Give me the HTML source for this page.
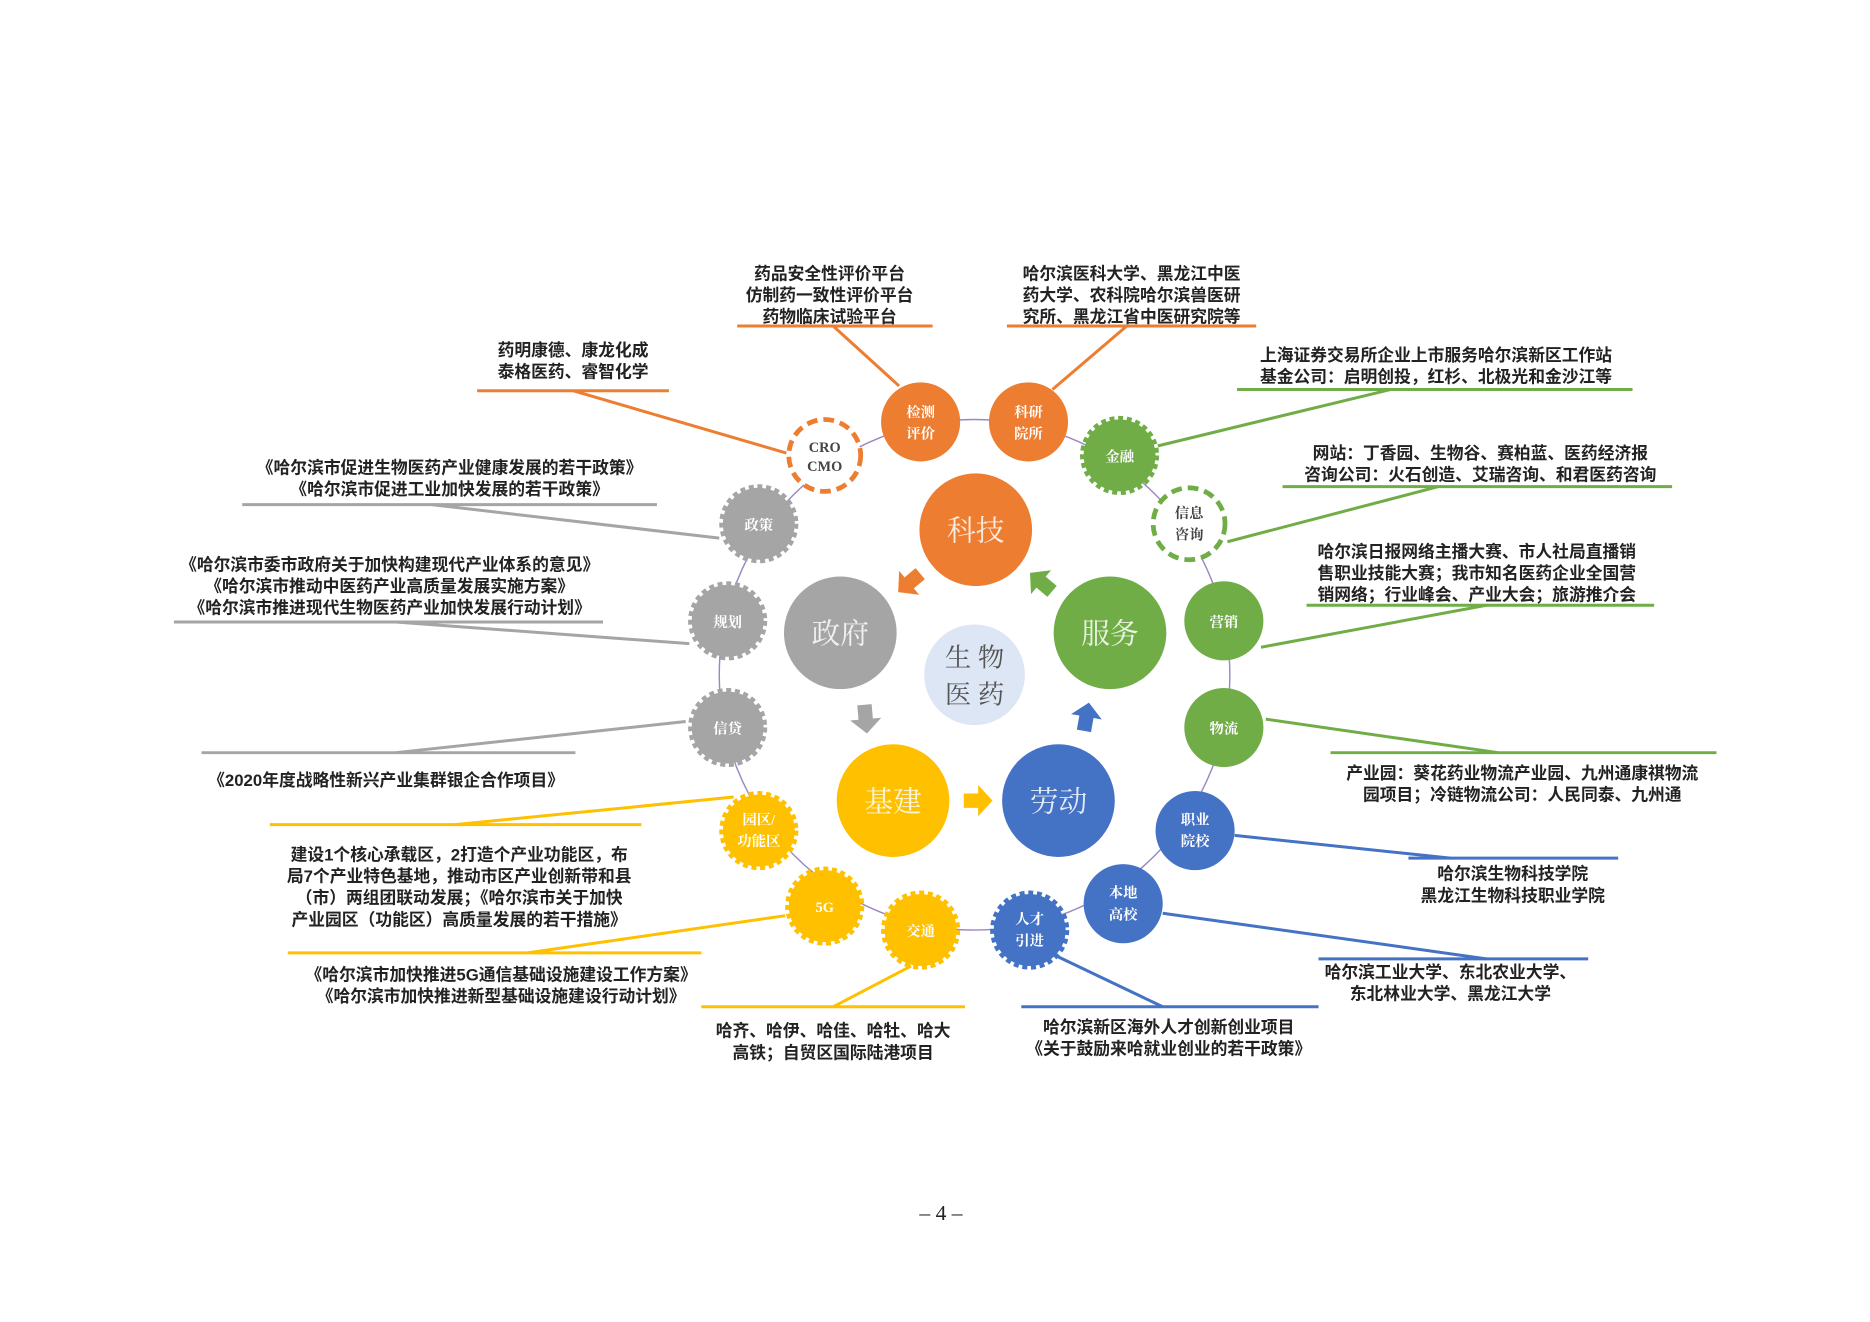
<!DOCTYPE html>
<html><head><meta charset="utf-8"><style>
html,body{margin:0;padding:0;background:#fff;}
svg{display:block;}
.t{font-family:"Liberation Sans","Noto Sans CJK SC",sans-serif;font-weight:bold;font-size:14px;fill:#222;text-anchor:middle;}
.n{font-family:"Liberation Serif","Noto Serif CJK SC",serif;font-weight:bold;font-size:12px;text-anchor:middle;}
.big{font-family:"Liberation Serif","Noto Serif CJK SC",serif;font-size:24px;fill:#fff;text-anchor:middle;opacity:.85}
</style></head><body>
<svg width="1870" height="1322" viewBox="0 0 1560 1103" xmlns="http://www.w3.org/2000/svg">
<rect width="1560" height="1103" fill="#fff"/>
<!-- ring -->
<circle cx="813" cy="563" r="213" fill="none" stroke="#9b87c4" stroke-width="1.2"/>
<!-- callout lines -->
<g stroke-width="2.5" fill="none">
<g stroke="#ed7d31">
<line x1="615" y1="272" x2="778" y2="272"/><line x1="695" y1="272" x2="750" y2="322"/>
<line x1="398" y1="326" x2="558" y2="326"/><line x1="478" y1="326" x2="656" y2="378"/>
<line x1="840" y1="272" x2="1048" y2="272"/><line x1="940" y1="272" x2="878" y2="325"/>
</g>
<g stroke="#70ad47">
<line x1="1032" y1="325" x2="1362" y2="325"/><line x1="1160" y1="325" x2="966" y2="372"/>
<line x1="1070" y1="406" x2="1395" y2="406"/><line x1="1200" y1="406" x2="1024" y2="452"/>
<line x1="1090" y1="505" x2="1380" y2="505"/><line x1="1240" y1="505" x2="1052" y2="540"/>
<line x1="1110" y1="628" x2="1432" y2="628"/><line x1="1056" y1="600" x2="1250" y2="628"/>
</g>
<g stroke="#4472c4">
<line x1="1175" y1="716" x2="1350" y2="716"/><line x1="1030" y1="697" x2="1210" y2="716"/>
<line x1="1100" y1="800" x2="1325" y2="800"/><line x1="970" y1="762" x2="1240" y2="800"/>
<line x1="852" y1="840" x2="1100" y2="840"/><line x1="880" y1="797" x2="970" y2="840"/>
</g>
<g stroke="#ffc000">
<line x1="585" y1="840" x2="805" y2="840"/><line x1="760" y1="806" x2="695" y2="840"/>
<line x1="240" y1="795" x2="585" y2="795"/><line x1="655" y1="764" x2="440" y2="795"/>
<line x1="225" y1="688" x2="535" y2="688"/><line x1="612" y1="665" x2="380" y2="688"/>
</g>
<g stroke="#a5a5a5">
<line x1="168" y1="628" x2="480" y2="628"/><line x1="572" y1="602" x2="330" y2="628"/>
<line x1="145" y1="519" x2="503" y2="519"/><line x1="330" y1="519" x2="575" y2="537"/>
<line x1="202" y1="421" x2="548" y2="421"/><line x1="360" y1="421" x2="600" y2="449"/>
</g>
</g>
<!-- outer nodes -->
<g>
<circle cx="688" cy="380" r="30" fill="#fff" stroke="#ed7d31" stroke-width="4" stroke-dasharray="9 5"/>
<text class="n" x="688" y="377" fill="#444">CRO</text><text class="n" x="688" y="393" fill="#444">CMO</text>
<circle cx="768" cy="352" r="33" fill="#ed7d31"/><text class="n" fill="#fff" x="768" y="348">检测</text><text class="n" fill="#fff" x="768" y="366">评价</text>
<circle cx="858" cy="352" r="33" fill="#ed7d31"/><text class="n" fill="#fff" x="858" y="348">科研</text><text class="n" fill="#fff" x="858" y="366">院所</text>
<circle cx="934" cy="380" r="30" fill="#70ad47" stroke="#70ad47" stroke-width="6" stroke-dasharray="4 3"/><text class="n" fill="#fff" x="934" y="385">金融</text>
<circle cx="992" cy="437" r="30" fill="#fff" stroke="#70ad47" stroke-width="4" stroke-dasharray="9 5"/><text class="n" fill="#444" x="992" y="432">信息</text><text class="n" fill="#444" x="992" y="450">咨询</text>
<circle cx="1021" cy="518" r="33" fill="#70ad47"/><text class="n" fill="#fff" x="1021" y="523">营销</text>
<circle cx="1021" cy="607" r="33" fill="#70ad47"/><text class="n" fill="#fff" x="1021" y="612">物流</text>
<circle cx="997" cy="693" r="33" fill="#4472c4"/><text class="n" fill="#fff" x="997" y="688">职业</text><text class="n" fill="#fff" x="997" y="706">院校</text>
<circle cx="937" cy="754" r="33" fill="#4472c4"/><text class="n" fill="#fff" x="937" y="749">本地</text><text class="n" fill="#fff" x="937" y="767">高校</text>
<circle cx="859" cy="776" r="30" fill="#4472c4" stroke="#4472c4" stroke-width="6" stroke-dasharray="4 3"/><text class="n" fill="#fff" x="859" y="771">人才</text><text class="n" fill="#fff" x="859" y="789">引进</text>
<circle cx="768" cy="776" r="30" fill="#ffc000" stroke="#ffc000" stroke-width="6" stroke-dasharray="4 3"/><text class="n" fill="#fff" x="768" y="781">交通</text>
<circle cx="688" cy="756" r="30" fill="#ffc000" stroke="#ffc000" stroke-width="6" stroke-dasharray="4 3"/><text class="n" fill="#fff" x="688" y="761">5G</text>
<circle cx="633" cy="693" r="30" fill="#ffc000" stroke="#ffc000" stroke-width="6" stroke-dasharray="4 3"/><text class="n" fill="#fff" x="633" y="688">园区/</text><text class="n" fill="#fff" x="633" y="706">功能区</text>
<circle cx="607" cy="607" r="30" fill="#a5a5a5" stroke="#a5a5a5" stroke-width="6" stroke-dasharray="4 3"/><text class="n" fill="#fff" x="607" y="612">信贷</text>
<circle cx="607" cy="518" r="30" fill="#a5a5a5" stroke="#a5a5a5" stroke-width="6" stroke-dasharray="4 3"/><text class="n" fill="#fff" x="607" y="523">规划</text>
<circle cx="633" cy="437" r="30" fill="#a5a5a5" stroke="#a5a5a5" stroke-width="6" stroke-dasharray="4 3"/><text class="n" fill="#fff" x="633" y="442">政策</text>
</g>
<!-- main nodes -->
<circle cx="813" cy="563" r="42" fill="#dce6f4"/>
<text class="big" style="fill:#555;font-size:22px;opacity:1" x="813" y="556">生 物</text>
<text class="big" style="fill:#555;font-size:22px;opacity:1" x="813" y="587">医 药</text>
<circle cx="814" cy="442" r="47" fill="#ed7d31"/><text class="big" x="814" y="451">科技</text>
<circle cx="701" cy="528" r="47" fill="#a5a5a5"/><text class="big" x="701" y="537">政府</text>
<circle cx="926" cy="528" r="47" fill="#70ad47"/><text class="big" x="926" y="537">服务</text>
<circle cx="745" cy="668" r="47" fill="#ffc000"/><text class="big" x="745" y="677">基建</text>
<circle cx="883" cy="668" r="47" fill="#4472c4"/><text class="big" x="883" y="677">劳动</text>
<!-- arrows -->
<polygon points="-10,-6 2,-6 2,-13 14,0 2,13 2,6 -10,6" fill="#ed7d31" transform="translate(760,485) rotate(140)"/>
<polygon points="-10,-6 2,-6 2,-13 14,0 2,13 2,6 -10,6" fill="#a5a5a5" transform="translate(722,598) rotate(85)"/>
<polygon points="-10,-6 2,-6 2,-13 14,0 2,13 2,6 -10,6" fill="#ffc000" transform="translate(814,668)"/>
<polygon points="-10,-6 2,-6 2,-13 14,0 2,13 2,6 -10,6" fill="#4472c4" transform="translate(906,600) rotate(-80)"/>
<polygon points="-10,-6 2,-6 2,-13 14,0 2,13 2,6 -10,6" fill="#70ad47" transform="translate(870,487) rotate(-140)"/>
<!-- texts -->
<g class="t">
<text x="692" y="233">药品安全性评价平台</text><text x="692" y="251">仿制药一致性评价平台</text><text x="692" y="269">药物临床试验平台</text>
<text x="478" y="297">药明康德、康龙化成</text><text x="478" y="315">泰格医药、睿智化学</text>
<text x="944" y="233">哈尔滨医科大学、黑龙江中医</text><text x="944" y="251">药大学、农科院哈尔滨兽医研</text><text x="944" y="269">究所、黑龙江省中医研究院等</text>
<text x="1198" y="301">上海证券交易所企业上市服务哈尔滨新区工作站</text><text x="1198" y="319">基金公司：启明创投，红杉、北极光和金沙江等</text>
<text x="1235" y="383">网站：丁香园、生物谷、赛柏蓝、医药经济报</text><text x="1235" y="401">咨询公司：火石创造、艾瑞咨询、和君医药咨询</text>
<text x="1232" y="465">哈尔滨日报网络主播大赛、市人社局直播销</text><text x="1232" y="483">售职业技能大赛；我市知名医药企业全国营</text><text x="1232" y="501">销网络；行业峰会、产业大会；旅游推介会</text>
<text x="1270" y="650">产业园：葵花药业物流产业园、九州通康祺物流</text><text x="1270" y="668">园项目；冷链物流公司：人民同泰、九州通</text>
<text x="1262" y="734">哈尔滨生物科技学院</text><text x="1262" y="752">黑龙江生物科技职业学院</text>
<text x="1210" y="816">哈尔滨工业大学、东北农业大学、</text><text x="1210" y="834">东北林业大学、黑龙江大学</text>
<text x="975" y="862">哈尔滨新区海外人才创新创业项目</text><text x="975" y="880">《关于鼓励来哈就业创业的若干政策》</text>
<text x="695" y="865">哈齐、哈伊、哈佳、哈牡、哈大</text><text x="695" y="883">高铁；自贸区国际陆港项目</text>
<text x="418" y="818">《哈尔滨市加快推进5G通信基础设施建设工作方案》</text><text x="418" y="836">《哈尔滨市加快推进新型基础设施建设行动计划》</text>
<text x="383" y="718">建设1个核心承载区，2打造个产业功能区，布</text><text x="383" y="736">局7个产业特色基地，推动市区产业创新带和县</text><text x="383" y="754">（市）两组团联动发展；《哈尔滨市关于加快</text><text x="383" y="772">产业园区（功能区）高质量发展的若干措施》</text>
<text x="322" y="656">《2020年度战略性新兴产业集群银企合作项目》</text>
<text x="325" y="476">《哈尔滨市委市政府关于加快构建现代产业体系的意见》</text><text x="325" y="494">《哈尔滨市推动中医药产业高质量发展实施方案》</text><text x="325" y="512">《哈尔滨市推进现代生物医药产业加快发展行动计划》</text>
<text x="375" y="395">《哈尔滨市促进生物医药产业健康发展的若干政策》</text><text x="375" y="413">《哈尔滨市促进工业加快发展的若干政策》</text>
</g>
<text x="785" y="1018" style="font-family:'Liberation Serif',serif;font-size:18px;fill:#222;text-anchor:middle">– 4 –</text>
</svg>
</body></html>
